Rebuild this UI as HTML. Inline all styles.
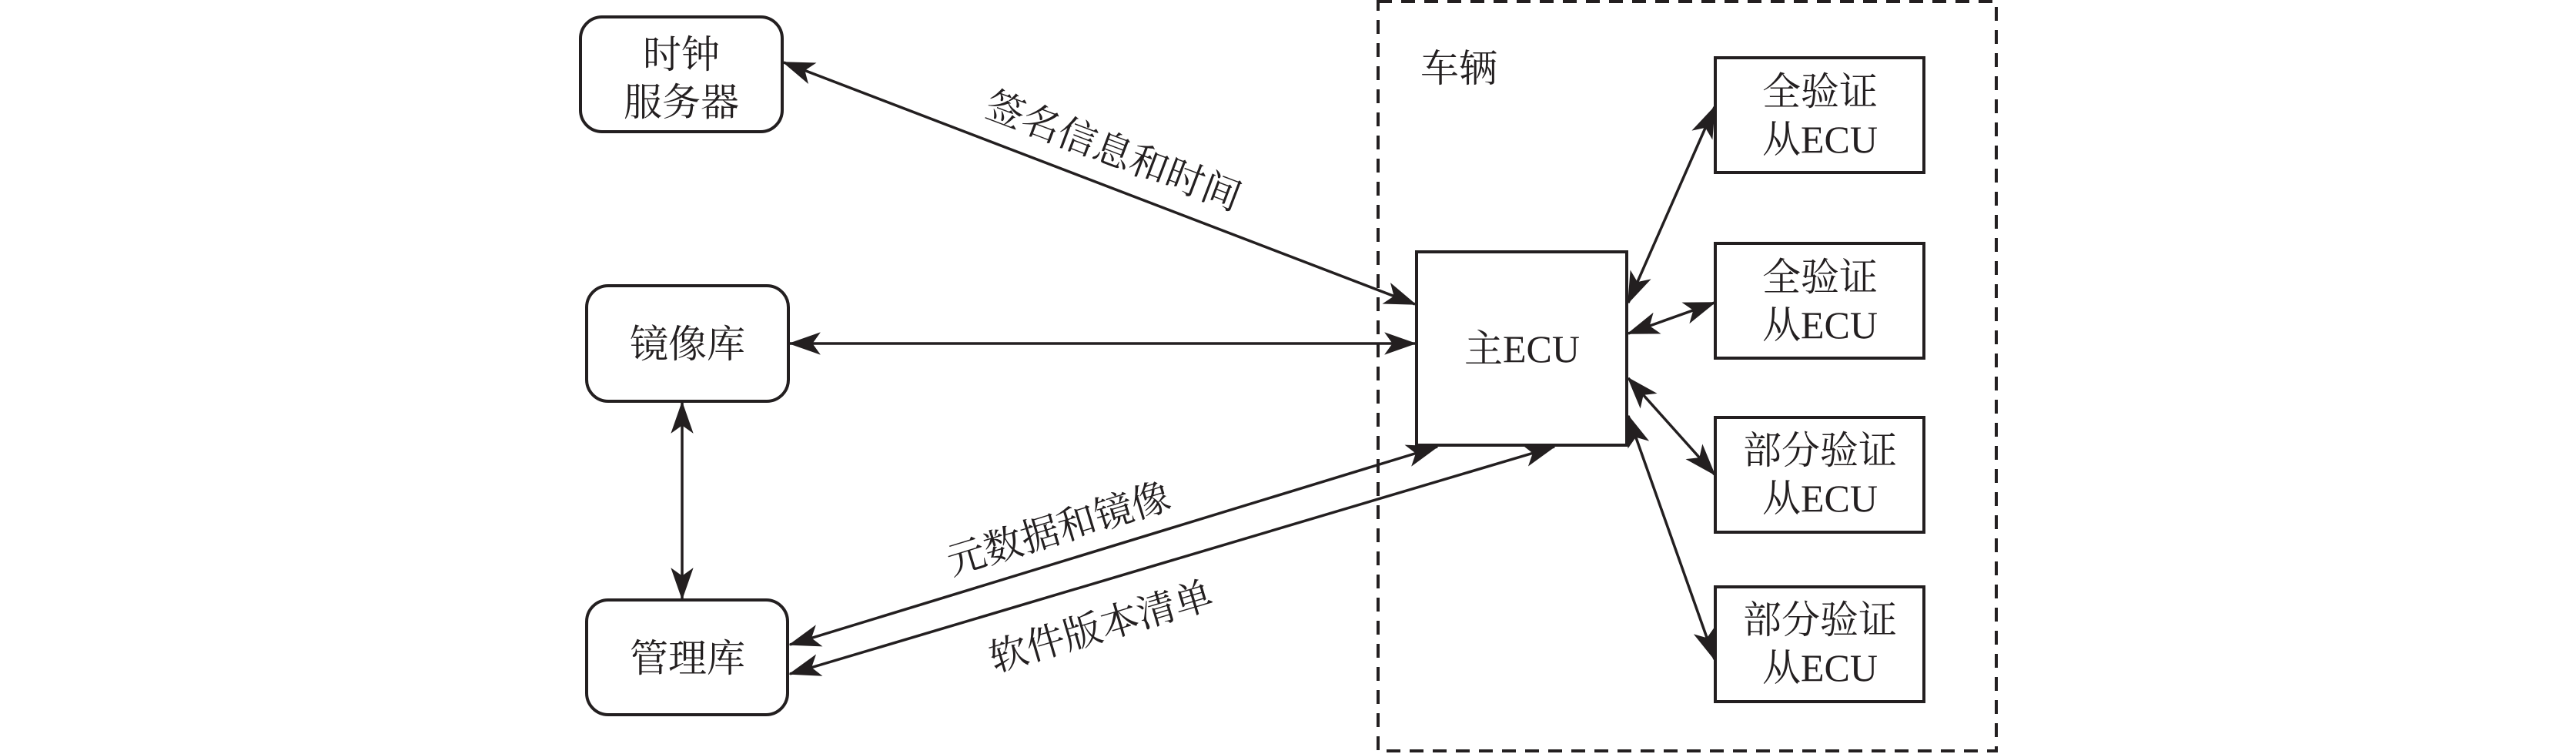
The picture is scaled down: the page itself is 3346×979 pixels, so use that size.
<!DOCTYPE html>
<html><head><meta charset="utf-8"><style>
html,body{margin:0;padding:0;background:#fff;}
svg{display:block;}
text{font-family:"Liberation Serif","Noto Serif CJK SC",serif;fill:#231f20;}
</style></head><body>
<svg width="3346" height="979" viewBox="0 0 3346 979" xmlns="http://www.w3.org/2000/svg">
<defs>
<marker id="a" viewBox="0 0 20 14" refX="19" refY="7" markerWidth="12" markerHeight="8.4" markerUnits="strokeWidth" orient="auto-start-reverse">
<path d="M0,0 L20,7 L0,14 L5,7 Z" fill="#231f20"/>
</marker>
</defs>
<g fill="none" stroke="#231f20" stroke-width="4">
<rect x="1790" y="2" width="803" height="973" stroke-dasharray="18,12"/>
<rect x="754" y="22" width="262" height="149" rx="28"/>
<rect x="762" y="371" width="262" height="150" rx="28"/>
<rect x="762" y="779" width="261" height="149" rx="28"/>
<rect x="1840" y="327" width="273" height="251"/>
<rect x="2228" y="75" width="271" height="149"/>
<rect x="2228" y="316" width="271" height="149"/>
<rect x="2228" y="542" width="271" height="149"/>
<rect x="2228" y="762" width="271" height="149"/>
</g>
<g stroke="#231f20" stroke-width="3.5" marker-start="url(#a)" marker-end="url(#a)">
<line x1="1018" y1="81" x2="1838" y2="395"/>
<line x1="1026" y1="446" x2="1838" y2="446"/>
<line x1="886" y1="523" x2="886" y2="777"/>
<line x1="1026" y1="837" x2="1867" y2="580"/>
<line x1="1026" y1="875" x2="2019" y2="580"/>
<line x1="2115" y1="393" x2="2227" y2="139"/>
<line x1="2115" y1="433" x2="2227" y2="393"/>
<line x1="2115" y1="491" x2="2227" y2="616"/>
<line x1="2115" y1="540" x2="2227" y2="856"/>
</g>
<g font-size="50" text-anchor="middle">
<text x="885" y="88">时钟</text>
<text x="885" y="150">服务器</text>
<text x="893" y="464">镜像库</text>
<text x="893" y="872">管理库</text>
<text x="1977" y="470">主ECU</text>
<text x="2364" y="136">全验证</text>
<text x="2364" y="198">从ECU</text>
<text x="2364" y="377">全验证</text>
<text x="2364" y="439">从ECU</text>
<text x="2364" y="602">部分验证</text>
<text x="2364" y="664">从ECU</text>
<text x="2364" y="822">部分验证</text>
<text x="2364" y="884">从ECU</text>
<text x="1895" y="106">车辆</text>
<text transform="translate(1440,212) rotate(20.8)">签名信息和时间</text>
<text transform="translate(1380,703) rotate(-17)">元数据和镜像</text>
<text transform="translate(1435,830) rotate(-16.5)">软件版本清单</text>
</g>
</svg>
</body></html>
